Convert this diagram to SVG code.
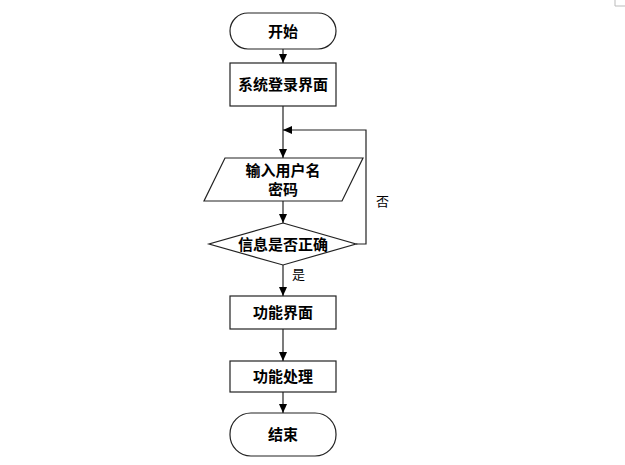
<svg xmlns="http://www.w3.org/2000/svg" width="625" height="465" viewBox="0 0 625 465">
<style>
.s{fill:#fff;stroke:#222;stroke-width:1.2}
.t{font-family:"Noto Sans CJK SC","Liberation Sans",sans-serif;font-size:15px;font-weight:bold;text-anchor:middle;fill:#000}
.l{font-family:"Noto Sans CJK SC","Liberation Sans",sans-serif;font-size:13px;fill:#000}
.c{fill:none;stroke:#222;stroke-width:1.2}
</style>
<defs>
<marker id="a" markerWidth="10" markerHeight="10" refX="9" refY="5" orient="auto" markerUnits="userSpaceOnUse">
<path d="M0,1 L9,5 L0,9 Z" fill="#000"/>
</marker>
</defs>
<rect width="625" height="465" fill="#fff"/>
<path d="M615,0 V6 H625" fill="none" stroke="#bbb" stroke-width="1"/>
<g id="start"><rect class="s" x="230" y="13" width="106" height="36" rx="18"/><text class="t" x="283" y="36.5">开始</text></g>
<g id="login"><rect class="s" x="230" y="63" width="106" height="43"/><text class="t" x="283" y="89.5">系统登录界面</text></g>
<g id="input"><path class="s" d="M225,158 H363 L342,201 H204 Z"/><text class="t" x="283" y="175.5">输入用户名</text><text class="t" x="283" y="194.5">密码</text></g>
<g id="check"><path class="s" d="M283,223 L356,244 L283,265 L209,244 Z"/><text class="t" x="283" y="249.5">信息是否正确</text></g>
<g id="func"><rect class="s" x="230" y="296" width="106" height="33"/><text class="t" x="283" y="317.5">功能界面</text></g>
<g id="proc"><rect class="s" x="230" y="361" width="106" height="31"/><text class="t" x="283" y="381.5">功能处理</text></g>
<g id="end"><rect class="s" x="230" y="413" width="106" height="43" rx="21"/><text class="t" x="283" y="439.5">结束</text></g>
<g id="connectors">
<path class="c" d="M283,49 V63" marker-end="url(#a)"/>
<path class="c" d="M283,106 V158" marker-end="url(#a)"/>
<path class="c" d="M283,201 V223" marker-end="url(#a)"/>
<path class="c" d="M283,265 V296" marker-end="url(#a)"/>
<path class="c" d="M283,329 V361" marker-end="url(#a)"/>
<path class="c" d="M283,392 V413" marker-end="url(#a)"/>
<path class="c" d="M356,244 H366 V130 H283" marker-end="url(#a)"/>
<text class="l" x="376" y="206">否</text>
<text class="l" x="292" y="279">是</text>
</g>
</svg>
